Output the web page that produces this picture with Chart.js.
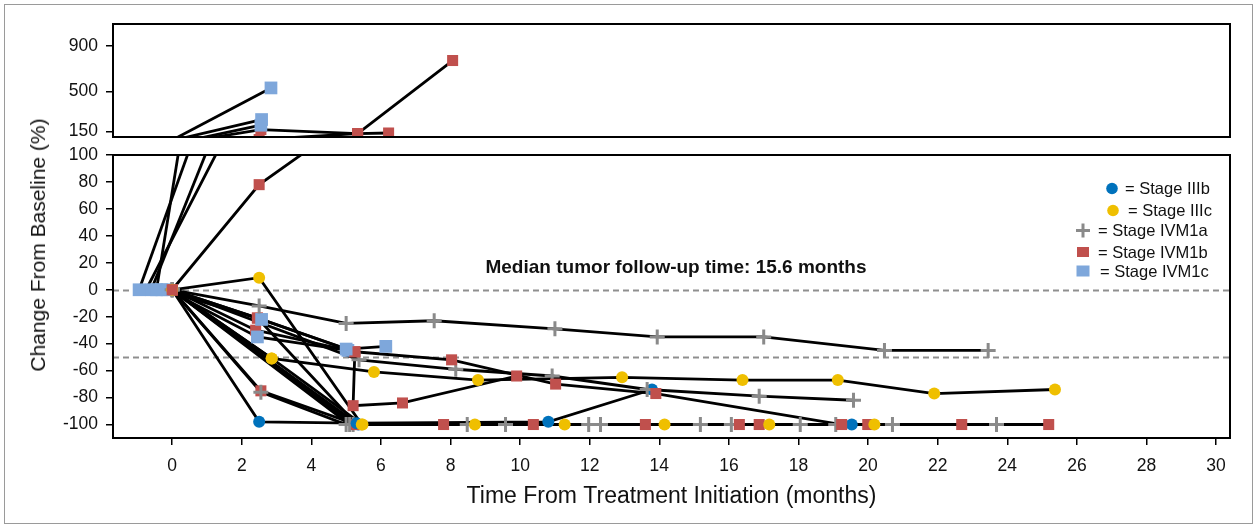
<!DOCTYPE html>
<html lang="en">
<head>
<meta charset="UTF-8" />
<title>Change From Baseline - spider plot</title>
<script src="https://cdn.jsdelivr.net/npm/chart.js"></script>
<style>
  body { margin: 0; background: #fff; font-family: "Liberation Sans", Arial, sans-serif; }
  #wrap { position: relative; width: 1257px; height: 527px; overflow: hidden; background: #fff; }
  #frame { position: absolute; left: 4px; top: 4px; width: 1247px; height: 518px; border: 1px solid #9a9a9a; }
  canvas { position: absolute; left: 0; top: 0; }
  #ytitle {
    position: absolute; left: 38px; top: 245px;
    transform: translate(-50%, -50%) rotate(-90deg);
    white-space: nowrap; font-size: 21px; color: #111;
  }
</style>
</head>
<body>
<div id="wrap">
  <div id="frame"></div>
  <canvas id="lowChart" width="1257" height="527"></canvas>
  <canvas id="highChart" width="1257" height="527"></canvas>
  <div id="ytitle">Change From Baseline (%)</div>
</div>

<script>
  // ---- data ----
  const STAGES = ['Stage IIIb', 'Stage IIIc', 'Stage IVM1a', 'Stage IVM1b', 'Stage IVM1c'];

  // stage index of each patient (0 = IIIb ... 4 = IVM1c)
  const PATIENT_STAGE = [4, 4, 4, 3, 3, 1, 2, 4, 3, 4, 3, 1, 2, 0, 2, 3, 1, 3, 2, 3, 2, 0, 3];

  // months from treatment initiation
  const PATIENT_TIMES = [
    [-0.45, 2.84],
    [-0.95, 2.57],
    [-0.6, 2.55],
    [-0.75, 2.55, 5.33, 6.22],
    [0, 2.5, 5.33, 8.06],
    [0, 2.5, 5.45, 8.7, 11.28],
    [0, 2.5, 5.0, 7.53, 11.0, 13.94, 17.0, 20.47, 23.45],
    [-0.3, 2.57, 5.0, 6.14],
    [0, 2.45, 5.25, 8.03, 11.02, 13.9, 19.24],
    [-0.15, 2.45, 5.05],
    [0, 2.4, 5.25, 5.2, 6.62, 9.9],
    [0, 2.86, 5.8, 8.79, 12.93, 16.39, 19.13, 21.9, 25.37],
    [0, 5.37, 8.15, 10.92, 13.65, 16.87, 19.58],
    [0, 2.5, 5.3, 10.81, 13.79],
    [0, 2.55, 5.0, 8.48, 9.58, 11.97],
    [0, 2.55, 5.3, 7.8, 10.38],
    [0, 2.86, 5.47, 14.15, 17.16, 20.18],
    [0, 5.3, 13.6, 16.3, 16.87],
    [0, 5.1, 12.31, 15.18, 18.05, 20.7, 23.69],
    [0, 5.3, 19.99, 22.69, 25.19],
    [0, 5.2, 16.07, 19.07],
    [0, 5.35, 19.53],
    [0, 2.45, 5.3]
  ];

  // % change from baseline
  const PATIENT_CHANGE = [
    [0, 530],
    [0, 253],
    [0, 203],
    [0, 165, 130, 135],
    [0, 78, 130, 770],
    [0, 9, -100, -100, -100],
    [0, -12, -25, -23, -29, -35, -35, -45, -45],
    [0, -22, -44, -42],
    [0, -21, -46, -52, -70, -77, -100],
    [0, -35, -45],
    [0, -30, -46, -86, -84, -64],
    [0, -51, -61, -67, -65, -67, -67, -77, -74],
    [0, -52, -59, -64, -74, -79, -82],
    [0, -98, -99, -98, -74],
    [0, -76, -100, -100, -100, -100],
    [0, -75, -100, -100, -100],
    [0, -51, -100, -100, -100, -100],
    [0, -100, -100, -100, -100],
    [0, -100, -100, -100, -100, -100, -100],
    [0, -100, -100, -100, -100],
    [0, -100, -100, -100],
    [0, -100, -100],
    [0, -21, -100]
  ];

  const X_TICKS = [0, 2, 4, 6, 8, 10, 12, 14, 16, 18, 20, 22, 24, 26, 28, 30];
  const Y_TICKS_LOW = [100, 80, 60, 40, 20, 0, -20, -40, -60, -80, -100];
  const Y_TICKS_HIGH = [150, 500, 900];
  const REF_LEVELS = [0, -50];
  const NOTE = 'Median tumor follow-up time: 15.6 months';

  // ---- styles ----
  const FONT = '"Liberation Sans", Arial, sans-serif';
  const STAGE_COLORS = ['#0072bc', '#efbf00', '#8a8a8a', '#c0504d', '#7ea7db'];
  const STAGE_SHAPES = ['circle', 'circle', 'cross', 'rect', 'rect'];
  const STAGE_RADII = [6, 6, 7.5, 7.8, 9];

  function buildDatasets() {
    const lines = [], marks = [];
    PATIENT_TIMES.forEach((ts, i) => {
      const pts = ts.map((t, j) => ({ x: t, y: PATIENT_CHANGE[i][j] }));
      const s = PATIENT_STAGE[i];
      lines.push({
        data: pts, order: 1, showLine: true, borderColor: '#000', borderWidth: 2.8,
        pointRadius: 0, pointHoverRadius: 0, tension: 0
      });
      marks.push({
        data: pts, order: 0, showLine: false,
        pointStyle: STAGE_SHAPES[s], pointRadius: STAGE_RADII[s],
        backgroundColor: STAGE_COLORS[s], borderColor: STAGE_COLORS[s],
        borderWidth: s === 2 ? 3 : 0
      });
    });
    return marks.concat(lines);
  }

  const boxPlugin = {
    id: 'box',
    afterDraw(chart) {
      const { ctx, chartArea: a } = chart;
      ctx.save();
      ctx.strokeStyle = '#000';
      ctx.lineWidth = 2;
      ctx.strokeRect(a.left, a.top, a.right - a.left, a.bottom - a.top);
      ctx.restore();
    }
  };

  const refLinePlugin = {
    id: 'refLines',
    beforeDatasetsDraw(chart) {
      const { ctx, chartArea: a, scales } = chart;
      ctx.save();
      ctx.strokeStyle = '#8f8f8f';
      ctx.lineWidth = 2;
      ctx.setLineDash([6, 4]);
      REF_LEVELS.forEach(v => {
        const y = Math.round(scales.y.getPixelForValue(v)) + 0.5;
        ctx.beginPath();
        ctx.moveTo(a.left, y);
        ctx.lineTo(a.right, y);
        ctx.stroke();
      });
      ctx.restore();
    }
  };

  function drawMarker(ctx, s, x, y) {
    ctx.fillStyle = STAGE_COLORS[s];
    ctx.strokeStyle = STAGE_COLORS[s];
    if (STAGE_SHAPES[s] === 'circle') {
      ctx.beginPath();
      ctx.arc(x, y, 5.8, 0, Math.PI * 2);
      ctx.fill();
    } else if (STAGE_SHAPES[s] === 'cross') {
      ctx.lineWidth = 3;
      ctx.beginPath();
      ctx.moveTo(x - 7, y); ctx.lineTo(x + 7, y);
      ctx.moveTo(x, y - 7); ctx.lineTo(x, y + 7);
      ctx.stroke();
    } else {
      const h = s === 4 ? 5.5 : 5;
      ctx.fillRect(x - h - 1, y - h, 2 * h + 2, 2 * h);
    }
  }

  const notesPlugin = {
    id: 'notes',
    afterDraw(chart) {
      const { ctx } = chart;
      ctx.save();
      ctx.fillStyle = '#111';
      ctx.textBaseline = 'middle';
      ctx.font = 'bold 19px ' + FONT;
      ctx.textAlign = 'center';
      ctx.fillText(NOTE, 676, 268);

      // legend
      const mx = [1112, 1113, 1083, 1083, 1083];
      const my = [188.5, 210.5, 230.5, 252, 271];
      const tx = [1125, 1128, 1098, 1098, 1100];
      ctx.font = '16.5px ' + FONT;
      ctx.textAlign = 'left';
      STAGES.forEach((name, s) => {
        drawMarker(ctx, s, mx[s], my[s]);
        ctx.fillStyle = '#111';
        ctx.fillText('= ' + name, tx[s], my[s] + 1);
      });
      ctx.restore();
    }
  };

  function yAxis(min, max, ticks) {
    return {
      type: 'linear', min: min, max: max,
      afterBuildTicks: s => { s.ticks = ticks.map(v => ({ value: v })); },
      afterFit: s => { s.width = 113; },
      grid: { drawOnChartArea: false, drawTicks: true, tickLength: 7, color: '#000', lineWidth: 1.5 },
      border: { display: true, color: '#000', width: 2 },
      ticks: { color: '#111', font: { size: 17.5, family: FONT }, padding: 8, autoSkip: false }
    };
  }

  Chart.defaults.animation = false;
  Chart.defaults.font.family = FONT;

  // lower panel: -110 .. 100
  new Chart(document.getElementById('lowChart'), {
    type: 'scatter',
    data: { datasets: buildDatasets() },
    options: {
      responsive: false,
      layout: { padding: { top: 155, right: 27, bottom: 10, left: 0 } },
      plugins: { legend: { display: false }, tooltip: { enabled: false } },
      scales: {
        x: {
          type: 'linear', min: -1.7, max: 30.4,
          afterBuildTicks: s => { s.ticks = X_TICKS.map(v => ({ value: v })); },
          afterFit: s => { s.height = 79; },
          grid: { drawOnChartArea: false, drawTicks: true, tickLength: 7, color: '#000', lineWidth: 1.5 },
          border: { display: true, color: '#000', width: 2 },
          ticks: { color: '#111', font: { size: 17.5, family: FONT }, padding: 11, maxRotation: 0, autoSkip: false },
          title: {
            display: true, text: 'Time From Treatment Initiation (months)', color: '#111',
            font: { size: 23, family: FONT }, padding: { top: 0, bottom: 7 }
          }
        },
        y: yAxis(-110, 100, Y_TICKS_LOW)
      }
    },
    plugins: [refLinePlugin, boxPlugin, notesPlugin]
  });

  // upper panel: 100 .. 1090
  new Chart(document.getElementById('highChart'), {
    type: 'scatter',
    data: { datasets: buildDatasets() },
    options: {
      responsive: false,
      events: [],
      layout: { padding: { top: 24, right: 27, bottom: 390, left: 0 } },
      plugins: { legend: { display: false }, tooltip: { enabled: false } },
      scales: {
        x: { type: 'linear', min: -1.7, max: 30.4, display: false },
        y: yAxis(100, 1090, Y_TICKS_HIGH)
      }
    },
    plugins: [boxPlugin]
  });
</script>
</body>
</html>
